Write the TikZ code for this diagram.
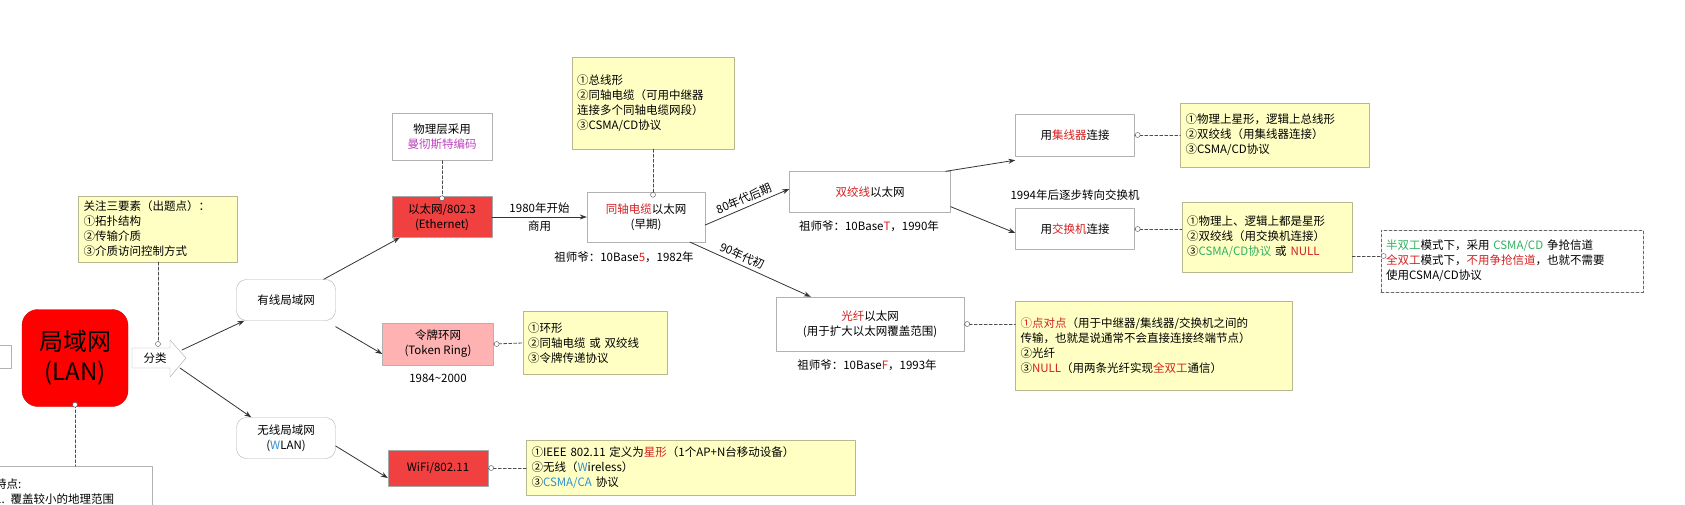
\documentclass[tikz,border=0pt]{standalone}
\usepackage{fontspec}
\setmainfont{Noto Sans CJK SC}
\usetikzlibrary{arrows.meta}
\definecolor{notefill}{HTML}{FFFFC4}
\definecolor{noteline}{HTML}{B8B890}
\definecolor{boxred}{HTML}{F04040}
\definecolor{txtred}{HTML}{D42020}
\definecolor{txtgreen}{HTML}{30B060}
\definecolor{txtblue}{HTML}{3090D0}
\definecolor{txtpurple}{HTML}{C040C0}
\newcommand{\rd}[1]{\textcolor{txtred}{#1}}
\newcommand{\gr}[1]{\textcolor{txtgreen}{#1}}
\begin{document}
\begin{tikzpicture}[x=1pt, y=-1pt, font=\fontsize{11.5}{15}\selectfont, line join=round, line cap=round, >={Stealth[length=7pt,width=5pt]},
	box/.style={draw=gray!60, fill=white, align=center, inner sep=2pt},
	redbox/.style={box, fill=boxred, draw=gray!70},
	note/.style={draw=noteline, fill=notefill, align=left, inner sep=5pt, text width=#1},
	link/.style={->, draw=black!80, thick},
	dotline/.style={densely dashed, draw=black!70, thick},
	pin/.style={draw=black!70, fill=white}]
	\useasboundingbox (0,0) rectangle (1685,505);
	\begin{scope}
	\clip (0,0) rectangle (1685,505);
	% left margin pieces
	\draw[gray!60, fill=white] (-10,345) rectangle (11,368);
	\node[box, anchor=north west, minimum width=164, minimum height=50, align=left, text width=150, inner sep=5pt] (tedian) at (-12,466) {特点:\\1. 覆盖较小的地理范围};
	\end{scope}
	% main node
	\node[box, fill=red, draw=red!80!black, rounded corners=16, minimum width=106, minimum height=97, font=\fontsize{24}{30}\selectfont] (lan) at (75,358) {局域网\\(LAN)};
	\draw[gray!70, fill=white] (132,348)--(170,348)--(170,340)--(186,358)--(170,377)--(170,368)--(132,368)--cycle;
	\node (fenlei) at (155,358) {分类};
	\node[note=149] (yaosu) at (158,229) {关注三要素（出题点）：\\①拓扑结构\\②传输介质\\③介质访问控制方式};
	\draw[dotline] (yaosu.south) -- (158,344);
	\draw[pin] (158,344) circle (2.5);
	\draw[dotline] ([yshift=2]lan.south) -- (tedian.north -| lan.south);
	\draw[pin] ([yshift=2]lan.south) circle (2.5);
	% second level
	\node[box, rounded corners=10, minimum width=99, minimum height=41] (wired) at (286,300) {有线局域网};
	\node[box, rounded corners=10, minimum width=99, minimum height=41] (wless) at (286,438) {无线局域网\\(\textcolor{txtblue}{W}LAN)};
	\draw[link] (182,350) -- ([xshift=8]wired.south west);
	\draw[link] (180,368) -- ([xshift=15]wless.north west);
	% third level
	\node[redbox, minimum width=100, minimum height=41] (eth) at (442,217) {以太网/802.3\\(Ethernet)};
	\node[box, minimum width=100, minimum height=47] (phys) at (442,137) {物理层采用\\\textcolor{txtpurple}{曼彻斯特编码}};
	\draw[dotline] (phys.south) -- ([yshift=-2]eth.north);
	\draw[pin] ([yshift=-2]eth.north) circle (2.5);
	\node[box, fill=red!30, minimum width=111, minimum height=42] (token) at (438,344) {令牌环网\\(Token Ring)};
	\node (tokenyr) at (438,378) {1984\textasciitilde2000};
	\node[note=134, minimum height=63] (tokennote) at (595,343) {①环形\\②同轴电缆 或 双绞线\\③令牌传递协议};
	\node[redbox, minimum width=100, minimum height=36] (wifi) at (438,468) {WiFi/802.11};
	\node[note=319, minimum height=55] (wifinote) at (691,468) {①IEEE 802.11 定义为\rd{星形}（1个AP+N台移动设备）\\②无线（\textcolor{txtblue}{W}ireless）\\③\textcolor{txtblue}{CSMA/CA} 协议};
	\draw[link] ([xshift=-12]wired.north east) -- ([xshift=8]eth.south west);
	\draw[link] ([yshift=-6]wired.south east) -- ([yshift=-10]token.west);
	\draw[link] ([yshift=-8]wless.east) -- ([yshift=-10]wifi.west);
	\draw[dotline] (token.east) -- (tokennote.west);
	\draw[pin] ([xshift=3]token.east) circle (2.5);
	\draw[dotline] (wifi.east) -- (wifinote.west);
	\draw[pin] ([xshift=3]wifi.east) circle (2.5);
	% ethernet branch
	\node[box, minimum width=118, minimum height=50] (coax) at (646,217) {\rd{同轴电缆}以太网\\(早期)};
	\node (coaxyr) at (624,257) {祖师爷：10Base\rd{5}，1982年};
	\node[note=152, minimum height=92] (coaxnote) at (653,103) {①总线形\\②同轴电缆（可用中继器\\连接多个同轴电缆网段）\\③CSMA/CD协议};
	\draw[dotline] (coaxnote.south) -- ([yshift=-3]coax.north -| coaxnote.south);
	\draw[pin] ([yshift=-3]coax.north -| coaxnote.south) circle (2.5);
	\draw[link] (eth.east) -- node[above] {1980年开始} node[below] {商用} (coax.west |- eth.east);
	\node[box, minimum width=161, minimum height=41] (tp) at (870,192) {\rd{双绞线}以太网};
	\node (tpyr) at (869,226) {祖师爷：10Base\rd{T}，1990年};
	\node[box, minimum width=188, minimum height=54] (fiber) at (870,324) {\rd{光纤}以太网\\(用于扩大以太网覆盖范围)};
	\node (fiberyr) at (867,365) {祖师爷：10Base\rd{F}，1993年};
	\draw[link] ([yshift=-8]coax.east) -- node[above, sloped] {80年代后期} ([yshift=3]tp.west);
	\draw[link] ([xshift=-15]coax.south east) -- node[above, sloped, pos=0.4] {90年代初} ([xshift=35]fiber.north west);
	% twisted pair branch
	\node[box, minimum width=119, minimum height=42] (hub) at (1075,135) {用\rd{集线器}连接};
	\node[box, minimum width=119, minimum height=41] (sw) at (1075,229) {用\rd{交换机}连接};
	\node (swyr) at (1075,195) {1994年后逐步转向交换机};
	\draw[link] ([xshift=-5]tp.north east) -- ([yshift=-4]hub.south west);
	\draw[link] ([yshift=6]tp.south east) -- ([yshift=-4]sw.west);
	\node[note=179, minimum height=64] (hubnote) at (1275,135) {①物理上星形，逻辑上总线形\\②双绞线（用集线器连接）\\③CSMA/CD协议};
	\node[note=160, minimum height=70] (swnote) at (1267,237) {①物理上、逻辑上都是星形\\②双绞线（用交换机连接）\\③\gr{CSMA/CD协议} 或 \rd{NULL}};
	\node[draw=black!60, densely dashed, thick, align=left, inner sep=5pt, text width=252, minimum height=62] (duplex) at (1512,261) {\gr{半双工}模式下，采用 \gr{CSMA/CD} 争抢信道\\\rd{全双工}模式下，\rd{不用争抢信道}，也就不需要\\使用CSMA/CD协议};
	\draw[dotline] (hub.east) -- (hubnote.west);
	\draw[pin] ([xshift=3]hub.east) circle (2.5);
	\draw[dotline] (sw.east) -- (sw.east -| swnote.west);
	\draw[pin] ([xshift=3]sw.east) circle (2.5);
	\draw[dotline] (swnote.east |- 0,256) -- (duplex.west |- 0,256);
	\draw[pin] ([xshift=3]duplex.west |- 0,256) circle (2.5);
	% fiber note
	\node[note=267, minimum height=89] (fibernote) at (1154,346) {\rd{①点对点}（用于中继器/集线器/交换机之间的\\传输，也就是说通常不会直接连接终端节点）\\②光纤\\③\rd{NULL}（用两条光纤实现\rd{全双工}通信）};
	\draw[dotline] (fiber.east) -- (fibernote.west |- fiber.east);
	\draw[pin] ([xshift=3]fiber.east) circle (2.5);
\end{tikzpicture}
\end{document}
